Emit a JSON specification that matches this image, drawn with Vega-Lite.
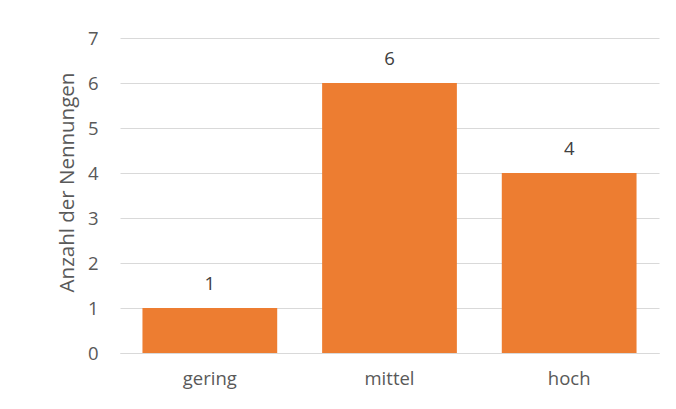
{
  "$schema": "https://vega.github.io/schema/vega-lite/v6.json",
  "autosize": {"type": "none"},
  "padding": {"left": 120, "top": 38, "right": 17, "bottom": 56},
  "width": 539,
  "height": 315,
  "background": "white",
  "data": {"values": [
    {"Kategorie": "gering", "Anzahl": 1},
    {"Kategorie": "mittel", "Anzahl": 6},
    {"Kategorie": "hoch", "Anzahl": 4}
  ]},
  "encoding": {
    "x": {"field": "Kategorie", "type": "nominal", "sort": null,
      "scale": {"paddingInner": 0.25, "paddingOuter": 0.125},
      "axis": {"title": null, "labelAngle": 0, "ticks": false, "domain": true, "domainColor": "#D9D9D9", "domainWidth": 1, "labelPadding": 16, "labelFontSize": 18.5, "labelColor": "#595959", "labelFont": "Open Sans"}},
    "y": {"field": "Anzahl", "type": "quantitative",
      "scale": {"domain": [0, 7], "nice": false},
      "axis": {"title": "Anzahl der Nennungen", "titleY": 144, "values": [0,1,2,3,4,5,6,7], "labelOverlap": false, "ticks": false, "domain": false, "grid": true, "gridColor": "#D9D9D9", "labelPadding": 22, "labelFontSize": 18.5, "labelColor": "#595959", "labelFont": "Open Sans", "titleFont": "Open Sans", "titleFontSize": 20.5, "titleFontWeight": "normal", "titleColor": "#595959", "titlePadding": 10}}
  },
  "layer": [
    {"mark": {"type": "bar", "color": "#ED7D31"}},
    {"mark": {"type": "text", "baseline": "bottom", "dy": -14, "fontSize": 18.5, "font": "Open Sans", "color": "#404040"},
     "encoding": {"text": {"field": "Anzahl", "type": "quantitative"}}}
  ],
  "config": {"view": {"stroke": null}}
}
